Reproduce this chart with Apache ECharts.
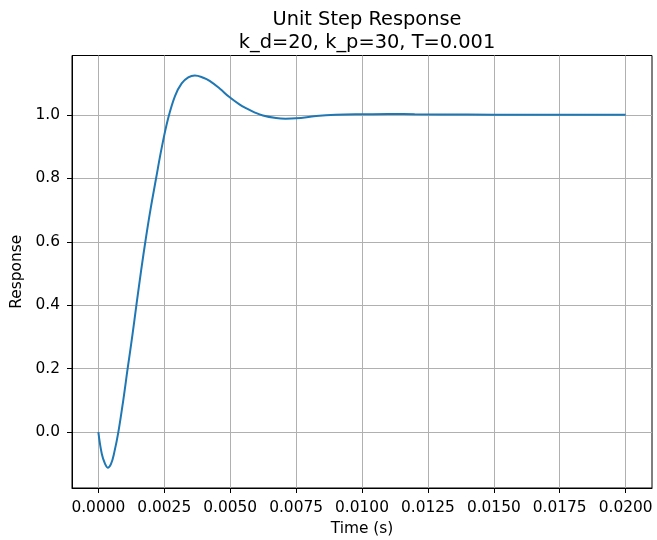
<!DOCTYPE html>
<html>
<head>
<meta charset="utf-8">
<script src="https://cdn.jsdelivr.net/npm/echarts@6/dist/echarts.min.js"></script>
<style>
  html, body { margin: 0; padding: 0; background: #fff; }
  #chart { width: 657px; height: 540px; }
</style>
</head>
<body>
<div id="chart"></div>
<script>
// Step response samples: time (s) and output
const timeValues = [
  0, 0.000129, 0.000254, 0.000356, 0.00048, 0.000606, 0.000758, 0.000947, 0.00111,
  0.00129, 0.00145, 0.00162, 0.0018, 0.00198, 0.00219, 0.0024, 0.00265, 0.00291,
  0.00316, 0.00341, 0.00366, 0.00398, 0.00422, 0.0046, 0.00497, 0.00535, 0.0056,
  0.00592, 0.00624, 0.00674, 0.0071, 0.0075, 0.00826, 0.009, 0.01, 0.011, 0.012,
  0.014, 0.016, 0.018, 0.02
];
const responseValues = [
  0, -0.068, -0.100, -0.112, -0.100, -0.063, 0.0, 0.102, 0.2,
  0.305, 0.405, 0.508, 0.61, 0.703, 0.8, 0.895, 0.99, 1.06,
  1.099, 1.118, 1.124, 1.117, 1.107, 1.083, 1.056, 1.033, 1.021,
  1.008, 0.998, 0.99, 0.988, 0.989, 0.996, 1.0, 1.002, 1.003, 1.002,
  1.001, 1.0, 1.0, 1.0
];
const xTicks = [0, 0.0025, 0.005, 0.0075, 0.01, 0.0125, 0.015, 0.0175, 0.02];
const yTicks = [0, 0.2, 0.4, 0.6, 0.8, 1.0];
const titleText = 'Unit Step Response\nk_d=20, k_p=30, T=0.001';
const xLabel = 'Time (s)';
const yLabel = 'Response';

const font = 'DejaVu Sans';
const chart = echarts.init(document.getElementById('chart'), null, { renderer: 'canvas' });

const gridLine = { show: true, lineStyle: { color: '#b0b0b0', width: 1 } };

chart.setOption({
  animation: false,
  backgroundColor: '#ffffff',
  title: {
    text: titleText,
    left: 362,
    textAlign: 'center',
    top: 3,
    textStyle: { fontFamily: font, fontSize: 19.4, fontWeight: 'normal', color: '#000', lineHeight: 23 }
  },
  grid: {
    left: 72, right: 5, top: 55.5, bottom: 52,
    outerBoundsMode: 'none',
    containLabel: false,
    show: true, borderColor: '#000', borderWidth: 1, backgroundColor: 'transparent'
  },
  xAxis: {
    type: 'value',
    min: -0.001, max: 0.021,
    name: xLabel,
    nameLocation: 'middle',
    nameGap: 33,
    nameTextStyle: { fontFamily: font, fontSize: 15.4, color: '#000' },
    axisLine: { show: true, onZero: false, lineStyle: { color: '#000', width: 1 } },
    axisTick: { show: true, length: 5, customValues: xTicks, lineStyle: { color: '#000' } },
    axisLabel: {
      customValues: xTicks, margin: 12,
      fontFamily: font, fontSize: 15.4, color: '#000',
      formatter: v => v.toFixed(4)
    },
    splitLine: gridLine
  },
  yAxis: {
    type: 'value',
    min: -0.176, max: 1.187,
    name: yLabel,
    nameLocation: 'middle',
    nameGap: 46,
    nameTextStyle: { fontFamily: font, fontSize: 15.4, color: '#000' },
    axisLine: { show: true, onZero: false, lineStyle: { color: '#000', width: 1 } },
    axisTick: { show: true, length: 5, customValues: yTicks, lineStyle: { color: '#000' } },
    axisLabel: {
      customValues: yTicks, margin: 12,
      fontFamily: font, fontSize: 15.4, color: '#000',
      formatter: v => v.toFixed(1)
    },
    splitLine: gridLine
  },
  series: [{
    type: 'line',
    data: timeValues.map((t, i) => [t, responseValues[i]]),
    showSymbol: false,
    smooth: 0.4,
    lineStyle: { color: '#1f77b4', width: 2 },
    clip: false
  }]
});
</script>
</body>
</html>
